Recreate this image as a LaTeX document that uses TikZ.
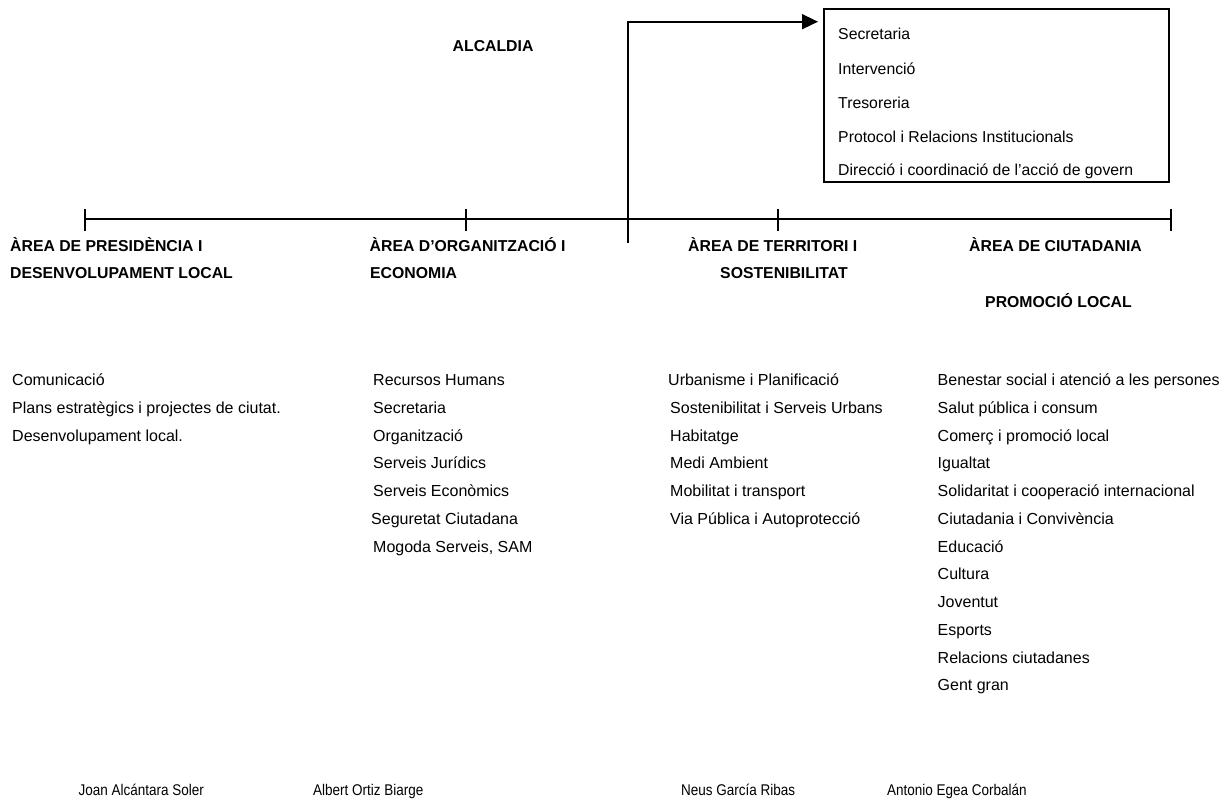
\documentclass[tikz,border=0pt]{standalone}
\usepackage{fontspec}
\setmainfont{Liberation Sans}
\newfontfamily\narrowfont[FakeStretch=0.87]{Liberation Sans}
\usetikzlibrary{arrows.meta,calc}
\tikzset{
  txt/.style={anchor=base west, inner sep=0pt, font=\fontsize{16}{18}\selectfont},
  boxtxt/.style={txt, font=\fontsize{15.8}{18}\selectfont},
  head/.style={txt, font=\fontsize{15.8}{18}\selectfont\bfseries},
  person/.style={anchor=base west, inner sep=0pt, font=\fontsize{15.5}{18}\selectfont\narrowfont},
  rule/.style={line width=1.6pt},
  arr/.style={line width=1.6pt, -{Triangle[length=16pt,width=15pt]}},
}
\begin{document}
\begin{tikzpicture}[x=1pt,y=-1pt]
\useasboundingbox (0,0) rectangle (1225,801);
% Alcaldia
\node[head] (alc) at (452.5,51) {ALCALDIA};
% Box
\node (box) [draw, line width=1.6pt, minimum width=345pt, minimum height=173pt, anchor=north west, inner sep=0pt] at (823,8) {};
\node[boxtxt] (b1) at (838,39.5) {Secretaria};
\node[boxtxt] (b2) at (838,74.5) {Intervenció};
\node[boxtxt] (b3) at (838,108.5) {Tresoreria};
\node[boxtxt] (b4) at (838,142.7) {Protocol i Relacions Institucionals};
\node[boxtxt] (b5) at (838,175.5) {Direcció i coordinació de l’acció de govern};
% Arrow
\coordinate (vbot) at (628,243);
\coordinate (tip) at (823,21.7);
\draw[arr, shorten >=5pt] (vbot) |- (tip);
% Horizontal line with ticks
\coordinate (t1) at (85,219);
\coordinate (t2) at (466,219);
\coordinate (t3) at (778,219);
\coordinate (t4) at (1171,219);
\draw[rule] (t1) -- (t4);
\foreach \t in {t1,t2,t3,t4}
  \draw[rule] ($(\t)+(0,-10)$) -- ($(\t)+(0,12)$);
% Headings
\node[head] (h1a) at (10,251.5) {ÀREA DE PRESIDÈNCIA I};
\node[head] (h1b) at (10,278) {DESENVOLUPAMENT LOCAL};
\node[head] (h2a) at (369.5,251.5) {ÀREA D’ORGANITZACIÓ I};
\node[head] (h2b) at (370,278) {ECONOMIA};
\node[head] (h3a) at (688,251.5) {ÀREA DE TERRITORI I};
\node[head] (h3b) at (720,278) {SOSTENIBILITAT};
\node[head] (h4a) at (969,251.5) {ÀREA DE CIUTADANIA};
\node[head] (h4b) at (985,307.5) {PROMOCIÓ LOCAL};
% Column 1
\foreach \s [count=\i from 0] in {Comunicació,Plans estratègics i projectes de ciutat.,Desenvolupament local.}
  \node[txt] (ca\i) at (12,385.7+27.75*\i) {\s};
% Column 2
\foreach \s [count=\i from 0] in {Recursos Humans,Secretaria,Organització,Serveis Jurídics,Serveis Econòmics}
  \node[txt] (cb\i) at (373,385.7+27.75*\i) {\s};
\node[txt] (cb5) at (371,385.7+27.75*5) {Seguretat Ciutadana};
\node[txt] (cb6) at (373,385.7+27.75*6) {Mogoda Serveis, SAM};
% Column 3
\node[txt] (cc0) at (668,385.7) {Urbanisme i Planificació};
\foreach \s [count=\i from 1] in {Sostenibilitat i Serveis Urbans,Habitatge,Medi Ambient,Mobilitat i transport,Via Pública i Autoprotecció}
  \node[txt] (cc\i) at (670,385.7+27.75*\i) {\s};
% Column 4
\foreach \s [count=\i from 0] in {Benestar social i atenció a les persones,Salut pública i consum,Comerç i promoció local,Igualtat,Solidaritat i cooperació internacional,Ciutadania i Convivència,Educació,Cultura,Joventut,Esports,Relacions ciutadanes,Gent gran}
  \node[txt] (cd\i) at (937.5,385.7+27.75*\i) {\s};
% Names
\node[person] (p1) at (78.5,795.5) {Joan Alcántara Soler};
\node[person] (p2) at (313,795.5) {Albert Ortiz Biarge};
\node[person] (p3) at (681,795.5) {Neus García Ribas};
\node[person] (p4) at (887,795.5) {Antonio Egea Corbalán};
\end{tikzpicture}
\end{document}
